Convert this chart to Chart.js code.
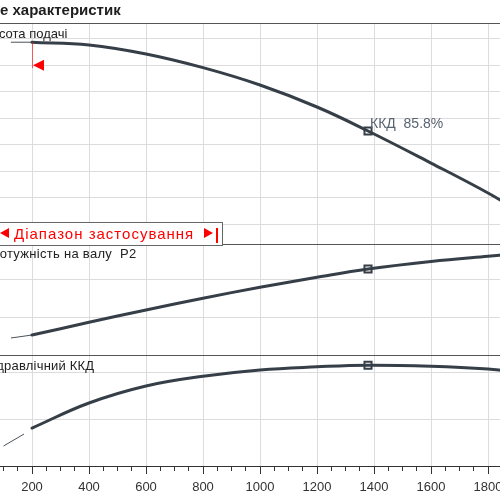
<!DOCTYPE html>
<html>
<head>
<meta charset="utf-8">
<script src="https://cdn.jsdelivr.net/npm/chart.js@4.4.1/dist/chart.umd.min.js"></script>
<style>
html,body{margin:0;padding:0;width:500px;height:500px;overflow:hidden;background:#fff;font-family:'Liberation Sans',Arial,sans-serif;}
#wrap{position:relative;width:500px;height:500px;overflow:hidden;}
#chart{position:absolute;left:-40px;top:0;}
.lbl{position:absolute;font-size:13px;color:#222;white-space:nowrap;line-height:1;}
#title{left:0px;top:2px;font-family:'Liberation Sans',Arial,sans-serif;font-weight:bold;font-size:15px;color:#1e1e1e;}
#rangeBox{position:absolute;left:-30px;top:222px;width:253px;height:24px;box-sizing:border-box;border:1px solid #666;background:#fff;}
#rangeText{position:absolute;left:14px;top:226px;font-size:15px;letter-spacing:1px;color:#ff0000;white-space:nowrap;line-height:1;}
.triL{position:absolute;left:0;top:228px;width:0;height:0;border-top:5px solid transparent;border-bottom:5px solid transparent;border-right:9px solid #ff0000;}
.triR{position:absolute;left:204px;top:228px;width:0;height:0;border-top:5px solid transparent;border-bottom:5px solid transparent;border-left:9px solid #ff0000;}
.barR{position:absolute;left:216px;top:228px;width:2px;height:15px;background:#ff0000;}
#bepLabel{position:absolute;font-size:14px;color:#5a6470;white-space:pre;line-height:1;}
</style>
</head>
<body>
<div id="wrap">
<canvas id="chart" width="600" height="500"></canvas>
<div id="title" class="lbl">е характеристик</div>
<div class="lbl" style="left:-17px;top:27px;">Висота подачі</div>
<div id="rangeBox"></div>
<div class="triL"></div>
<div id="rangeText">Діапазон застосування</div>
<div class="triR"></div>
<div class="barR"></div>
<div class="lbl" style="left:-10px;top:247px;letter-spacing:0.3px;">Потужність на валу&nbsp; P2</div>
<div class="lbl" style="left:-14px;top:359px;letter-spacing:0.2px;">Гідравлічний ККД</div>
<div id="bepLabel"></div>
</div>
<script>
// ---- data ----
const flowPts   = [200, 400, 600, 800, 1000, 1200, 1379, 1600, 1800, 1900];
const headVals  = [23.72, 23.51, 22.83, 21.80, 20.49, 18.83, 17.02, 14.6, 12.34, 11.06];
const powerVals = [76.6, 93.3, 109.6, 125.0, 139.4, 152.6, 163.5, 173.4, 180.3, 183.4];
const effVals   = [32.3, 53.6, 68.1, 76.4, 81.8, 84.4, 85.8, 84.9, 82.6, 80.0];

const headExtFlow  = [126, 200];
const headExtVals  = [23.72, 23.72];
const powerExtFlow = [126, 200];
const powerExtVals = [72.7, 76.6];
const effExtFlow   = [100, 172];
const effExtVals   = [17.0, 27.2];

const bepIndex = 6;
const rangeStart = 200;

const xTickLabels = [200, 400, 600, 800, 1000, 1200, 1400, 1600, 1800];
const xTickValues = [];
for (let v = 50; v <= 1950; v += 50) xTickValues.push(v);

const headGrid  = [10, 12, 14, 16, 18, 20, 22, 24];
const powerGrid = [100, 150];
const effGrid   = [40, 80];

// ---- styling ----
const LINE = '#363f48';
const GRID = '#dcdcdc';
const DARK = '#555555';

Chart.defaults.font.family = "'Liberation Sans', Arial, sans-serif";

const pts = (xs, ys) => xs.map((x, i) => ({x: x, y: ys[i]}));

function yAxis(min, max, grids, weight) {
  return {
    type: 'linear', position: 'left', stack: 'panels', stackWeight: weight,
    min: min, max: max, offset: false,
    afterBuildTicks: s => { s.ticks = [min].concat(grids, [max]).map(v => ({value: v})); },
    afterFit: s => { s.width = 0; },
    ticks: {display: false},
    border: {display: false},
    grid: {
      drawTicks: false, lineWidth: 1,
      color: c => (c.tick && (c.tick.value === min || c.tick.value === max)) ? DARK : GRID
    }
  };
}

const thick = (data, axis) => ({data: data, yAxisID: axis, borderColor: LINE, borderWidth: 3,
  pointRadius: 0, tension: 0.4, fill: false, borderCapStyle: 'round'});
const thin = (data, axis) => ({data: data, yAxisID: axis, borderColor: '#4a525a', borderWidth: 1,
  pointRadius: 0, fill: false});
const marker = (data, axis) => ({data: data, yAxisID: axis, showLine: false, pointStyle: 'rect',
  pointRadius: 5, pointBackgroundColor: '#ffffff', pointBorderColor: LINE, pointBorderWidth: 2});

const overlay = {
  id: 'overlay',
  afterDatasetsDraw(chart) {
    const ctx = chart.ctx, x = chart.scales.x, yH = chart.scales.yH;
    const px = Math.round(x.getPixelForValue(rangeStart));
    const py = yH.getPixelForValue(headVals[0]);
    ctx.save();
    ctx.strokeStyle = 'rgba(255,0,0,0.6)';
    ctx.lineWidth = 1;
    ctx.beginPath(); ctx.moveTo(px + 0.5, py); ctx.lineTo(px + 0.5, py + 26); ctx.stroke();
    ctx.fillStyle = '#ff0000';
    ctx.beginPath(); ctx.moveTo(px + 1, py + 23); ctx.lineTo(px + 12, py + 17.5); ctx.lineTo(px + 12, py + 28.5); ctx.closePath(); ctx.fill();
    ctx.restore();
    const bx = x.getPixelForValue(flowPts[bepIndex]);
    const by = yH.getPixelForValue(headVals[bepIndex]);
    const canvasLeft = chart.canvas.offsetLeft;
    const el = document.getElementById('bepLabel');
    el.textContent = 'ККД  ' + effVals[bepIndex].toFixed(1) + '%';
    el.style.left = (canvasLeft + bx + 2) + 'px';
    el.style.top = (by - 15) + 'px';
  }
};

new Chart(document.getElementById('chart'), {
  type: 'line',
  data: {
    datasets: [
      thick(pts(flowPts, headVals), 'yH'),
      thin(pts(headExtFlow, headExtVals), 'yH'),
      thick(pts(flowPts, powerVals), 'yP'),
      thin(pts(powerExtFlow, powerExtVals), 'yP'),
      thick(pts(flowPts, effVals), 'yE'),
      thin(pts(effExtFlow, effExtVals), 'yE'),
      marker([{x: flowPts[bepIndex], y: headVals[bepIndex]}], 'yH'),
      marker([{x: flowPts[bepIndex], y: powerVals[bepIndex]}], 'yP'),
      marker([{x: flowPts[bepIndex], y: effVals[bepIndex]}], 'yE')
    ]
  },
  options: {
    responsive: false,
    animation: false,
    devicePixelRatio: 1,
    layout: {padding: {left: 15, right: 15, top: 23, bottom: 0}},
    plugins: {legend: {display: false}, tooltip: {enabled: false}},
    scales: {
      x: {
        type: 'linear', min: 0, max: 2000,
        afterBuildTicks: s => { s.ticks = xTickValues.map(v => ({value: v})); },
        afterFit: s => { s.height = 34; },
        ticks: {autoSkip: false, maxRotation: 0, padding: 6, color: '#333', font: {size: 13},
          callback: v => xTickLabels.includes(v) ? String(v) : ''},
        grid: {
          color: c => (c.tick && xTickLabels.concat([0, 2000]).includes(c.tick.value)) ? GRID : 'rgba(0,0,0,0)',
          tickColor: '#333', tickLength: 8,
          tickBorderDash: c => (c.tick && xTickLabels.includes(c.tick.value)) ? [] : [4, 40]
        },
        border: {color: '#333', width: 1}
      },
      yE: yAxis(0, 94.26, effGrid, 1),
      yP: yAxis(50, 195.7, powerGrid, 1),
      yH: yAxis(8.453, 25.17, headGrid, 2)
    }
  },
  plugins: [overlay]
});
</script>
</body>
</html>
